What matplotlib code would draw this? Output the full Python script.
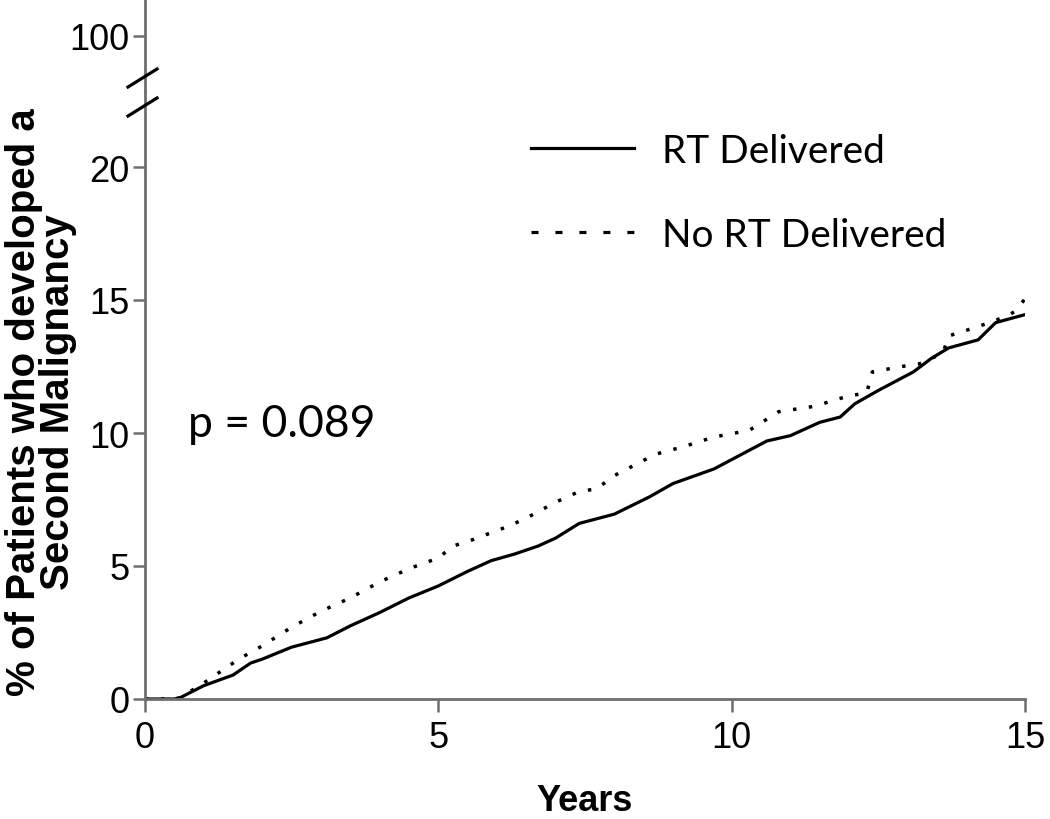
import matplotlib
matplotlib.use("Agg")
import matplotlib.pyplot as plt
from matplotlib.lines import Line2D

plt.rcParams['font.family'] = ['Liberation Sans', 'DejaVu Sans']

# ---- data ----
rt_years = [0, 0.5, 0.6, 1.0, 1.5, 1.8, 2.0, 2.5, 3.1, 3.5, 4.0, 4.5, 5.0, 5.5, 5.9,
            6.3, 6.7, 7.0, 7.4, 8.0, 8.6, 9.0, 9.7, 10.0, 10.6, 11.0, 11.5, 11.85,
            12.1, 12.5, 13.1, 13.4, 13.7, 14.2, 14.5, 15.0]
rt_pct = [0, 0, 0.05, 0.5, 0.9, 1.35, 1.5, 1.95, 2.3, 2.75, 3.25, 3.8, 4.25, 4.8, 5.2,
          5.45, 5.75, 6.05, 6.6, 6.95, 7.6, 8.1, 8.65, 9.0, 9.7, 9.9, 10.4, 10.6,
          11.1, 11.6, 12.3, 12.8, 13.2, 13.5, 14.15, 14.45]

nort_years = [0, 0.5, 0.6, 1.0, 1.6, 2.0, 2.5, 3.0, 3.5, 4.0, 4.5, 5.0, 5.25, 5.6,
              6.2, 6.5, 7.0, 7.4, 7.7, 8.0, 8.7, 9.2, 9.7, 10.3, 10.8, 11.4, 12.0,
              12.3, 12.4, 12.9, 13.2, 13.6, 13.7, 14.2, 14.7, 14.85, 15.0]
nort_pct = [0, 0, 0.05, 0.6, 1.5, 2.0, 2.7, 3.3, 3.8, 4.4, 4.9, 5.3, 5.75, 6.0,
            6.5, 6.8, 7.4, 7.8, 7.9, 8.4, 9.2, 9.5, 9.85, 10.1, 10.8, 11.0, 11.4,
            11.5, 12.3, 12.5, 12.6, 13.0, 13.65, 14.0, 14.4, 14.6, 15.05]

series_labels = ["RT Delivered", "No RT Delivered"]
x_ticks = [0, 5, 10, 15]
y_ticks_low = [0, 5, 10, 15, 20]
y_ticks_high = [100]
p_text = "p = 0.089"
x_label = "Years"
y_label = "% of Patients who developed a\nSecond Malignancy"

# ---- figure ----
W, H = 1050, 820
fig = plt.figure(figsize=(W / 100, H / 100), dpi=100)

x0, x1 = 145, 1025      # pixel extents of x axis
y_break, y_bottom = 92, 700
ax = fig.add_axes([x0 / W, (H - y_bottom) / H, (x1 - x0) / W, (y_bottom - y_break) / H])
ax_top = fig.add_axes([x0 / W, (H - y_break) / H, (x1 - x0) / W, y_break / H], sharex=ax)

pxu = (700 - 168) / 20.0  # pixels per unit
ax.set_ylim(0, (y_bottom - y_break) / pxu)
ax_top.set_ylim(100 - (y_break - 37) / pxu, 100 + 37 / pxu)
ax.set_xlim(0, 15)

spine_col = '#6e6e6e'
for a in (ax, ax_top):
    for s in ('top', 'right'):
        a.spines[s].set_visible(False)
    a.spines['left'].set_color(spine_col)
    a.spines['left'].set_linewidth(2)
    a.tick_params(direction='out', length=9, width=1.8, color=spine_col,
                  labelsize=26, pad=2)
ax.spines['bottom'].set_color(spine_col)
ax.spines['bottom'].set_linewidth(2)
ax_top.spines['bottom'].set_visible(False)
ax_top.tick_params(axis='x', bottom=False, labelbottom=False)

ax.set_xticks(x_ticks)
ax.set_yticks(y_ticks_low)
ax_top.set_yticks(y_ticks_high)
ax.tick_params(axis='x', pad=6)

ax.plot(rt_years, rt_pct, color='black', lw=2.3, solid_joinstyle='miter')
ax.plot(nort_years, nort_pct, color='black', lw=2.5, linestyle=(0, (1, 3.6)))

ax.set_xlabel(x_label, fontsize=26, fontweight='bold', labelpad=20)
ax.set_ylabel(y_label, fontsize=29, fontweight='bold', linespacing=0.85)
ax.yaxis.set_label_coords((77 - x0) / (x1 - x0), 0.49)

ax.text(0.73, 9.9, p_text, fontsize=32, family=['Lato', 'DejaVu Sans'],
        ha='left', va='baseline')

# break marks on the y axis
for yp in (79, 108):
    fig.add_artist(Line2D([128 / W, 157 / W], [(H - yp - 9) / H, (H - yp + 9) / H],
                          color='black', lw=2.3, transform=fig.transFigure))

handles = [Line2D([], [], color='black', lw=2.3),
           Line2D([], [], color='black', lw=2.3, linestyle=(0, (2.2, 5.3)))]
fig.legend(handles, series_labels, loc='upper left',
           bbox_to_anchor=(531 / W, (H - 134) / H), frameon=False,
           prop={'family': ['Lato', 'DejaVu Sans'], 'size': 28},
           handlelength=2.65, handletextpad=0.72, labelspacing=1.23,
           borderpad=0, borderaxespad=0)

fig.savefig('out.png', dpi=100)
